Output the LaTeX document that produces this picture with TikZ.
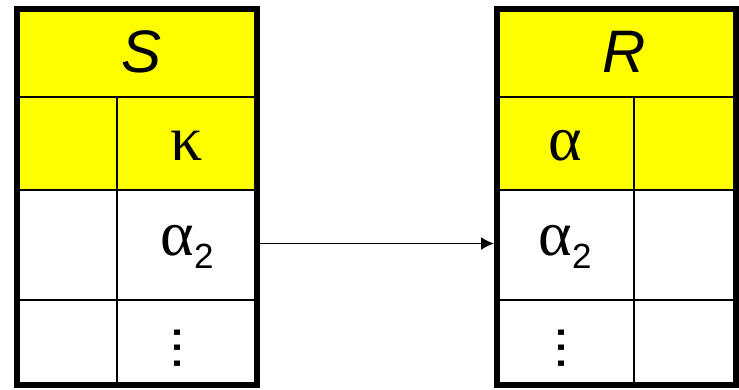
\documentclass[tikz,border=0pt]{standalone}
\usepackage{fontspec}
\setmainfont{Liberation Sans}
\newfontfamily\greekfont{Liberation Serif}
\usetikzlibrary{arrows.meta}
\definecolor{headyellow}{RGB}{255,255,0}
\tikzset{
  outer/.style={line width=6pt},
  inner/.style={line width=2.6pt},
  cell/.style={inner sep=0pt, outer sep=0pt},
  dotcell/.style={inner sep=0pt, outer sep=0pt, rotate=90,
    font=\fontsize{56}{56}\selectfont},
  link/.style={line width=1.8pt, -{Latex[length=13pt,width=13pt]}},
}
\newcommand{\relname}[1]{\fontsize{60}{60}\selectfont\itshape #1}
\newcommand{\gk}[1]{{\fontsize{64}{64}\selectfont\greekfont #1}}
\newcommand{\subtwo}{\raisebox{-13pt}{\fontsize{35}{35}\selectfont 2}}
\begin{document}
\begin{tikzpicture}[x=1pt,y=-1pt]
\useasboundingbox (0,0) rectangle (739,389);

% ---- relation S ----
\fill[headyellow] (17,9) rectangle (257,190);
\draw[inner] (17,97) -- (257,97);
\draw[inner] (17,190) -- (257,190);
\draw[inner] (17,300) -- (257,300);
\draw[inner] (117,97) -- (117,384.5);
\draw[outer] (17,9) rectangle (257,384.5);

\node[cell] (Sname) at (142,52) {\relname{S}};
\node[cell] (Skappa) at (187,146) {\gk{κ}};
\node[cell] (Salpha) at (187,247) {\gk{α}\subtwo};
\node[dotcell] (Sdots) at (178,348) {...};

% ---- relation R ----
\fill[headyellow] (497,9) rectangle (736,190);
\draw[inner] (497,97) -- (736,97);
\draw[inner] (497,190) -- (736,190);
\draw[inner] (497,300) -- (736,300);
\draw[inner] (634,97) -- (634,384.5);
\draw[outer] (497,9) rectangle (736,384.5);

\node[cell] (Rname) at (624,52) {\relname{R}};
\node[cell] (Ralpha) at (565,146) {\gk{α}};
\node[cell] (Ralpha2) at (565,247) {\gk{α}\subtwo};
\node[dotcell] (Rdots) at (561,348) {...};

% ---- foreign key reference ----
\coordinate (Sout) at (260,243.5);
\coordinate (Rin) at (494,243.5);
\draw[link] (Sout) -- (Rin);
\end{tikzpicture}
\end{document}
